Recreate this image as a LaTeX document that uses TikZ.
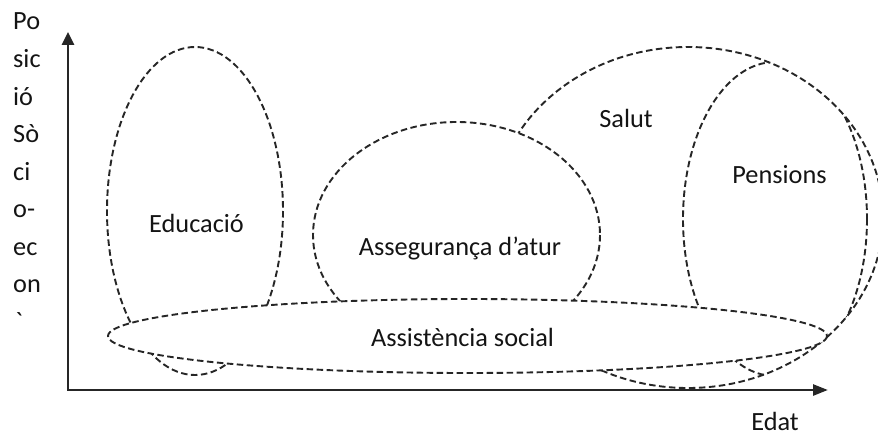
\documentclass[tikz,border=0pt]{standalone}
\usepackage{fontspec}
\setmainfont{Carlito}
\newfontfamily\gravefont{Carlito}[Ligatures=TeXOff]
\usetikzlibrary{arrows.meta}
\begin{document}
\begin{tikzpicture}[x=1pt,y=-1pt,
  blob/.style={draw=black!85, line width=1.9pt, dash pattern=on 6.5pt off 3.5pt},
  lbl/.style={anchor=base, inner sep=0pt, text=black!92, font=\fontsize{26.3}{30}\selectfont},
  side/.style={lbl, anchor=base west},
  axisline/.style={line width=2.6pt, draw=black!85, line join=miter,
    {Triangle[length=13pt,width=12pt]}-{Triangle[length=15pt,width=11pt]}}
]
\useasboundingbox (0,0) rectangle (878,436);
\clip (0,0) rectangle (878,436);
% shapes (back to front)
\draw[blob] (688,217.5) ellipse [x radius=195, y radius=170.5];   % Salut
\begin{scope}
  \clip (688,217.5) ellipse [x radius=195, y radius=170.5];
  \draw[blob] (775,219) ellipse [x radius=92, y radius=157];      % Pensions
\end{scope}
\draw[blob, fill=white] (456.5,235) ellipse [x radius=143.5, y radius=113]; % Assegurança
\draw[blob] (195,211) ellipse [x radius=88, y radius=164];        % Educació
\draw[blob, fill=white] (467.5,336) ellipse [x radius=359.5, y radius=37]; % Assistència
% axes
\coordinate (ytop) at (68,32);
\coordinate (orig) at (68,390);
\coordinate (xend) at (828,390);
\draw[axisline] (ytop) -- (orig) -- (xend);
% labels
\node[lbl] (edu) at (196.5,232) {Educació};
\node[lbl] (ass) at (460,255) {Assegurança d’atur};
\node[lbl] (sal) at (626,127) {Salut};
\node[lbl] (pen) at (779.5,183) {Pensions};
\node[lbl] (soc) at (462.5,346) {Assistència social};
\node[lbl] (edat) at (775,430) {Edat};
% vertical axis label, broken into lines
\node[side] (v1) at (13,30) {Po};
\node[side] (v2) at (13,67.5) {sic};
\node[side] (v3) at (13,105) {ió};
\node[side] (v4) at (13,142.5) {Sò};
\node[side] (v5) at (13,180) {ci};
\node[side] (v6) at (13,217.5) {o-};
\node[side] (v7) at (13,255) {ec};
\node[side] (v8) at (13,292.5) {on};
\node[side, font=\fontsize{26.3}{30}\gravefont] (v9) at (15,330) {`};
\end{tikzpicture}
\end{document}
